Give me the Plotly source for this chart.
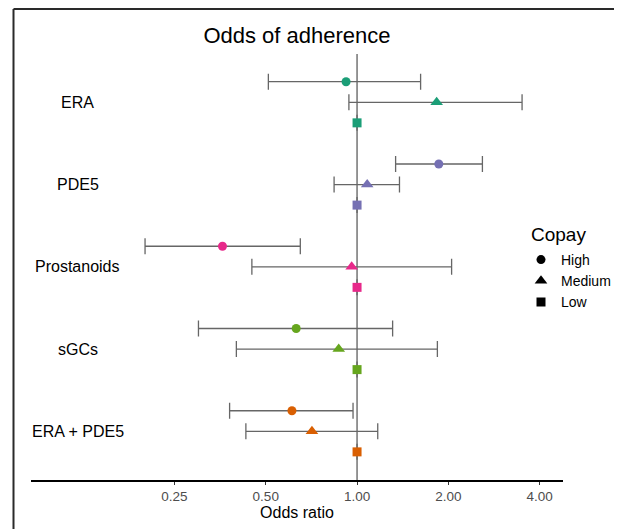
import math
import plotly.graph_objects as go

drugs = ["ERA", "PDE5", "Prostanoids", "sGCs", "ERA + PDE5"]
colors = ["#1B9E77", "#7570B3", "#E7298A", "#66A61E", "#D95F02"]
levels = ["High", "Medium", "Low"]
symbols = ["circle", "triangle-up", "square"]

or_high = [0.92, 1.86, 0.36, 0.63, 0.61]
lo_high = [0.51, 1.34, 0.20, 0.30, 0.38]
hi_high = [1.62, 2.59, 0.65, 1.31, 0.97]
or_med = [1.83, 1.08, 0.96, 0.87, 0.71]
lo_med = [0.94, 0.84, 0.45, 0.40, 0.43]
hi_med = [3.50, 1.38, 2.05, 1.84, 1.17]
or_low = [1.0, 1.0, 1.0, 1.0, 1.0]

tick_vals = [0.25, 0.5, 1.0, 2.0, 4.0]
tick_text = ["0.25", "0.50", "1.00", "2.00", "4.00"]

FONT = "Liberation Sans, Arial, sans-serif"
offsets = [0.25, 0.0, -0.25]
sizes = [9, 11, 9]

W, H = 622, 529
# panel in figure pixels (page has an 8px body margin)
PL, PR, PT, PB = 23, 555, 46, 472
PW, PH = PR - PL, PB - PT

def px_to_paper_x(px):
    return (px - PL) / PW

def px_to_paper_y(py):
    return (PB - py) / PH

fig = go.Figure()

# reference line at OR = 1
fig.add_trace(go.Scatter(x=[1, 1], y=[-0.7, 4.7], mode="lines",
                         line=dict(color="#6a6a6a", width=1.4),
                         showlegend=False, hoverinfo="skip"))

n = len(drugs)
for i, d in enumerate(drugs):
    ys = [n - 1 - i + o for o in offsets]
    xs = [or_high[i], or_med[i], or_low[i]]
    plus = [hi_high[i] - or_high[i], hi_med[i] - or_med[i], None]
    minus = [or_high[i] - lo_high[i], or_med[i] - lo_med[i], None]
    fig.add_trace(go.Scatter(
        x=xs, y=ys, mode="markers",
        marker=dict(symbol=symbols, color=colors[i], size=sizes, opacity=1,
                    line=dict(width=0)),
        error_x=dict(type="data", array=plus, arrayminus=minus, symmetric=False,
                     color="#666666", thickness=1.3, width=8),
        showlegend=False, hoverinfo="x"))

# legend entries
for lv, sym, sz in zip(levels, symbols, sizes):
    fig.add_trace(go.Scatter(x=[None], y=[None], mode="markers", name=lv,
                             marker=dict(symbol=sym, color="black", size=sz, opacity=1)))

# category labels
for i, d in enumerate(drugs):
    fig.add_annotation(x=math.log10(0.12), y=n - 1 - i, xref="x", yref="y",
                       text=d, showarrow=False, xanchor="center", yanchor="middle",
                       font=dict(size=16, color="black", family=FONT))

# legend title
fig.add_annotation(x=px_to_paper_x(521), y=px_to_paper_y(226), xref="paper", yref="paper",
                   text="Copay", showarrow=False, xanchor="left", yanchor="middle",
                   font=dict(size=19, color="black", family=FONT))

# frame lines (top and left)
fx, fy = px_to_paper_x(5.5), px_to_paper_y(1)
fig.add_shape(type="line", xref="paper", yref="paper", x0=fx, x1=1.3, y0=fy, y1=fy,
              line=dict(color="#2a2a2a", width=2))
fig.add_shape(type="line", xref="paper", yref="paper", x0=fx, x1=fx, y0=fy, y1=-0.3,
              line=dict(color="#2a2a2a", width=2))

fig.update_layout(
    width=W, height=H,
    margin=dict(l=PL, r=W - PR, t=PT, b=H - PB, autoexpand=False),
    paper_bgcolor="white", plot_bgcolor="white",
    font=dict(family=FONT, color="black"),
    title=dict(text="Odds of adherence", x=(PL + PR) / 2 / W, xanchor="center",
               y=1 - 27 / H, yanchor="middle",
               font=dict(size=22, color="black", family=FONT)),
    xaxis=dict(type="log", range=[-1.075, 0.679], showgrid=False, zeroline=False,
               showline=True, linecolor="black", linewidth=1.5,
               tickvals=tick_vals, ticktext=tick_text,
               ticks="outside", ticklen=3, tickwidth=1, tickcolor="#333333",
               tickfont=dict(size=13.5, color="#4d4d4d", family=FONT),
               title=dict(text="Odds ratio", font=dict(size=16, color="black", family=FONT),
                          standoff=3)),
    yaxis=dict(range=[-0.592, 4.587], visible=False, showgrid=False, zeroline=False),
    legend=dict(xref="container", yref="container", x=513 / W, y=1 - 236 / H,
                xanchor="left", yanchor="top",
                font=dict(size=14, color="black", family=FONT),
                bgcolor="rgba(0,0,0,0)"),
)

fig.write_html("out.html")
